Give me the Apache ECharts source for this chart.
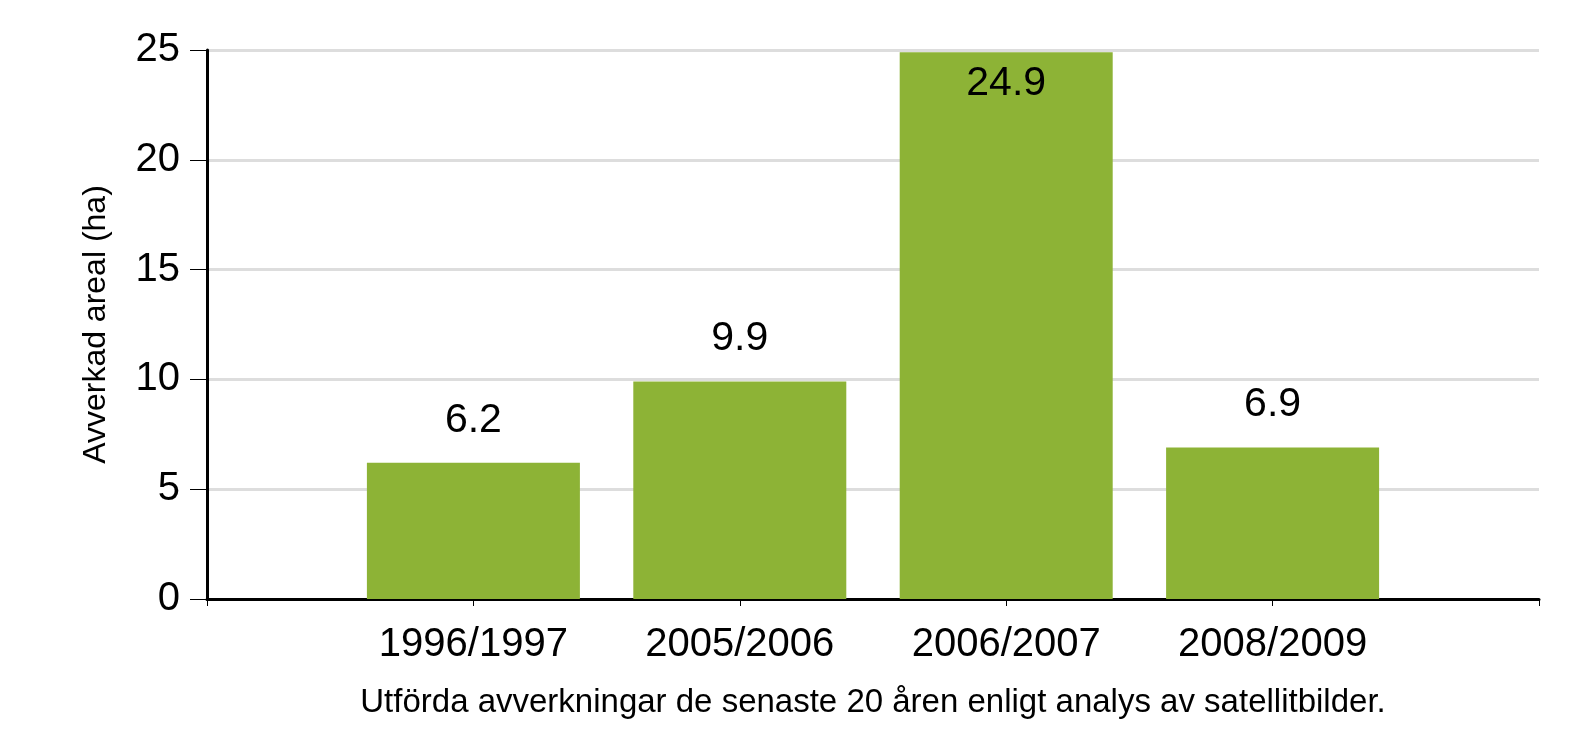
<!DOCTYPE html>
<html>
<head>
<meta charset="utf-8">
<script src="https://cdn.jsdelivr.net/npm/echarts@6/dist/echarts.min.js"></script>
<style>
  html, body { margin: 0; padding: 0; background: #ffffff; }
  #chart { width: 1596px; height: 755px; }
</style>
</head>
<body>
<div id="chart"></div>
<script>
const categories = ['', '1996/1997', '2005/2006', '2006/2007', '2008/2009', ''];
const values = [null, 6.2, 9.9, 24.9, 6.9, null];
const yTicks = [0, 5, 10, 15, 20, 25];
const yAxisName = 'Avverkad areal (ha)';
const xAxisName = 'Utförda avverkningar de senaste 20 åren enligt analys av satellitbilder.';

const FONT = '"Liberation Sans", Arial, sans-serif';
const yMax = yTicks[yTicks.length - 1];

const seriesData = values.map(function (v) {
  if (v === null) return null;
  const inside = v > yMax * 0.9;
  return {
    value: v,
    label: inside ? { position: 'insideTop', distance: 11 } : { position: 'top', distance: 22 }
  };
});

const chart = echarts.init(document.getElementById('chart'), null, { renderer: 'canvas' });
chart.setOption({
  animation: false,
  backgroundColor: '#ffffff',
  grid: { left: 207, right: 57, top: 50, bottom: 156, containLabel: false },
  xAxis: {
    type: 'category',
    data: categories,
    boundaryGap: false,
    name: xAxisName,
    nameLocation: 'middle',
    nameGap: 87,
    nameTextStyle: { fontFamily: FONT, fontSize: 33, color: '#000' },
    axisLine: { show: true, lineStyle: { color: '#000', width: 3 } },
    axisTick: { show: true, interval: 0, length: 7, lineStyle: { color: '#000', width: 1 } },
    axisLabel: { interval: 0, margin: 26, fontFamily: FONT, fontSize: 40, color: '#000' },
    splitLine: { show: false }
  },
  yAxis: {
    type: 'value',
    min: yTicks[0],
    max: yMax,
    interval: 5,
    name: yAxisName,
    nameLocation: 'middle',
    nameGap: 95,
    nameTextStyle: { fontFamily: FONT, fontSize: 32, color: '#000' },
    axisLine: { show: true, lineStyle: { color: '#000', width: 3 } },
    axisTick: { show: true, length: 17, lineStyle: { color: '#000', width: 1 } },
    axisLabel: { margin: 27, fontFamily: FONT, fontSize: 40, color: '#000' },
    splitLine: { show: true, lineStyle: { color: '#dddddd', width: 3 } }
  },
  series: [{
    type: 'bar',
    data: seriesData,
    barWidth: 213,
    itemStyle: { color: '#8db336' },
    label: {
      show: true,
      fontFamily: FONT,
      fontSize: 41,
      color: '#000',
      formatter: function (p) { return p.value.toFixed(1); }
    }
  }]
});
</script>
</body>
</html>
